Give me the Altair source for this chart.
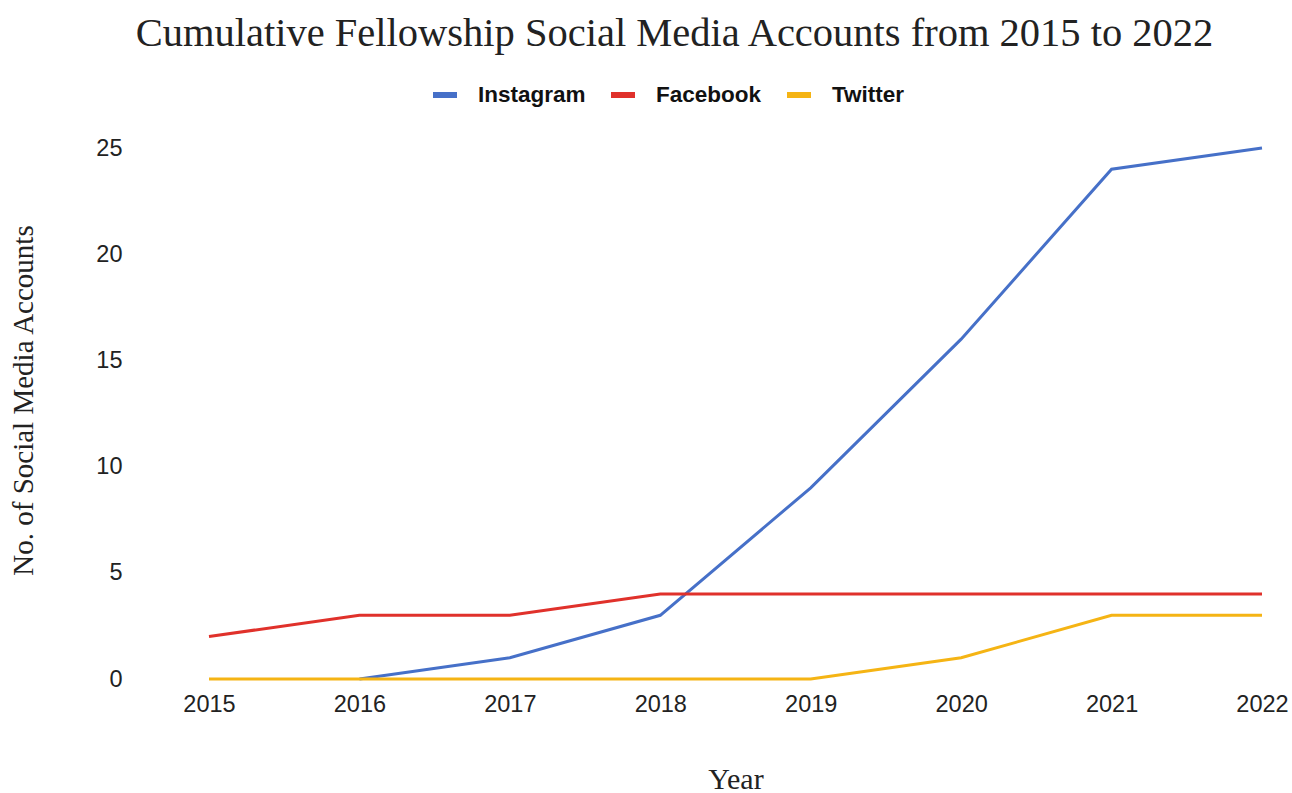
import altair as alt
import pandas as pd

years = [2015, 2016, 2017, 2018, 2019, 2020, 2021, 2022]
instagram = [None, 0, 1, 3, 9, 16, 24, 25]
facebook = [2, 3, 3, 4, 4, 4, 4, 4]
twitter = [0, 0, 0, 0, 0, 1, 3, 3]
series = ["Instagram", "Facebook", "Twitter"]
colors = ["#4670C8", "#E0312B", "#F5B414"]

rows = []
for name, vals in zip(series, [instagram, facebook, twitter]):
    for y, v in zip(years, vals):
        if v is not None:
            rows.append({"Year": y, "Value": v, "Series": name})
df = pd.DataFrame(rows)

chart = alt.Chart(df).mark_line(strokeWidth=3).encode(
    x=alt.X("Year:Q",
            scale=alt.Scale(domain=[2015, 2022], nice=False, zero=False),
            axis=alt.Axis(values=years, format="d", grid=False, ticks=False, domain=False,
                          labelFont="Liberation Sans", labelFontSize=23.5, labelColor="#222",
                          labelPadding=13, title="Year", titleFont="Liberation Serif",
                          titleFontSize=30, titleFontWeight="normal", titleColor="#222",
                          titleBaseline="alphabetic", titleY=109, labelFlush=False)),
    y=alt.Y("Value:Q",
            scale=alt.Scale(domain=[0, 25], nice=False),
            axis=alt.Axis(values=[0, 5, 10, 15, 20, 25], grid=False, ticks=False, domain=False,
                          labelFont="Liberation Sans", labelFontSize=23.5, labelColor="#222",
                          labelPadding=87, title="No. of Social Media Accounts",
                          titleFont="Liberation Serif", titleFontSize=29,
                          titleFontWeight="normal", titleColor="#222",
                          titleBaseline="alphabetic",
                          titleX=-177, titleY=252, titleAngle=-90)),
    color=alt.Color("Series:N", sort=series,
                    scale=alt.Scale(domain=series, range=colors),
                    legend=alt.Legend(orient="none", direction="horizontal", title=None,
                                      legendX=221, legendY=-68,
                                      symbolType="stroke", symbolStrokeWidth=6,
                                      symbolSize=576, labelFont="Liberation Sans",
                                      labelFontSize=22.5, labelFontWeight="bold",
                                      labelColor="#111", labelOffset=18,
                                      columnPadding=13, padding=0)),
    order=alt.Order("Series:N", sort="ascending"),
).properties(
    width=1053,
    height=531,
    background="white",
    autosize=alt.AutoSizeParams(type="none"),
    padding={"left": 209, "top": 148, "right": 30, "bottom": 114},
    title=alt.Title("Cumulative Fellowship Social Media Accounts from 2015 to 2022",
                    font="Liberation Serif", fontSize=40.5, fontWeight="normal",
                    color="#222", anchor="middle", dx=-61, offset=26),
).configure_view(stroke="transparent", strokeWidth=0)

chart.save("out.html", embed_options={"renderer": "svg", "actions": False})
